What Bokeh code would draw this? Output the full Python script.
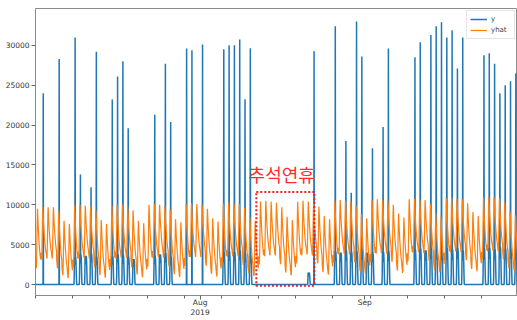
import numpy as np
import pandas as pd
from bokeh.plotting import figure
from bokeh.models import ColumnDataSource, FixedTicker, Range1d, Legend, LegendItem
from bokeh.core.properties import value
from bokeh.embed import file_html
from bokeh.resources import INLINE

# ---------------- data ----------------
start_date = "2019-07-01"
n_days = 92

# forecast (yhat): daily peak and daily low, Jul 1 .. Sep 30
yhat_peak = [
    9500, 9800, 9700, 9700, 9200, 8000, 7600,
    9900, 10000, 9900, 9800, 9300, 8100, 7600,
    9900, 10000, 10000, 9800, 9300, 8000, 7700,
    10000, 10100, 10000, 9900, 9400, 8200, 7800,
    10100, 10200, 10100, 10000, 9500, 8300, 7900,
    10200, 10300, 10200, 10100, 9600, 8400, 8000,
    10400, 10500, 10400, 10300, 9700, 8500, 8100,
    10400, 10500, 10400, 10300, 9800, 8600, 8200,
    10500, 10600, 10500, 10400, 9900, 8800, 8300,
    10600, 10700, 10600, 10500, 10000, 8900, 8400,
    10700, 10800, 10700, 10600, 10100, 9000, 8500,
    10800, 10900, 10800, 10700, 10200, 9100, 8600,
    10900, 11000, 10900, 10800, 10300, 9200, 8700,
    11000,
]
yhat_low = [
    2100, 3200, 3300, 3300, 2100, 1200, 850,
    2200, 3300, 3400, 3300, 2200, 1250, 900,
    2300, 3300, 3400, 3400, 2200, 1300, 950,
    2300, 3400, 3500, 3400, 2300, 1350, 1000,
    2400, 3500, 3500, 3500, 2400, 1400, 1050,
    2500, 3500, 3600, 3600, 2500, 1450, 1100,
    2600, 3600, 3700, 3700, 2600, 1550, 1200,
    2700, 3700, 3800, 3700, 2700, 1600, 1300,
    2800, 3800, 3900, 3800, 2800, 1700, 1400,
    2900, 3900, 4000, 3900, 2900, 1800, 1500,
    3000, 4000, 4100, 4000, 3000, 1900, 1600,
    3100, 4100, 4200, 4100, 3100, 2000, 1700,
    3200, 4200, 4300, 4200, 3200, 2100, 1800,
    3300,
]
# shape of one day of yhat (0 = daily low, 1 = daily peak), hours 0..23
yhat_day_shape = [0.12, 0.08, 0.04, 0.00, 0.00, 0.15, 0.35, 0.60, 0.85, 1.00, 0.92, 0.82,
                  0.72, 0.64, 0.56, 0.50, 0.44, 0.38, 0.33, 0.28, 0.24, 0.20, 0.17, 0.14]

# actual (y): daytime plateau level and the day's tallest hour (0 = none)
y_level = [
    0, 0, 0, 0, 0, 0, 0,
    3500, 3800, 3600, 3900, 3500, 0, 0,
    3600, 3800, 3700, 3500, 3200, 0, 0,
    0, 3600, 3800, 3900, 3500, 0, 0,
    0, 0, 0, 0, 0, 0, 0,
    4000, 4200, 4100, 4300, 3900, 3800, 0,
    0, 0, 0, 0, 0, 0, 0,
    0, 0, 1500, 0, 0, 0, 0,
    4200, 4000, 4300, 4100, 4200, 4400, 4000,
    4000, 0, 4100, 4200, 0, 0, 0,
    0, 4400, 4500, 4300, 4600, 4500, 4400,
    4500, 4400, 4600, 4300, 0, 0, 0,
    4500, 4600, 4400, 4700, 4500, 4600, 4400,
    4500,
]
y_peak = [
    0, 24000, 0, 0, 28300, 0, 0,
    31000, 13800, 0, 12200, 29200, 0, 0,
    23200, 26100, 28000, 19600, 0, 0, 0,
    0, 21300, 0, 27700, 20400, 0, 0,
    29600, 29400, 0, 30100, 0, 0, 0,
    29500, 30000, 30000, 30750, 23250, 29650, 0,
    0, 0, 0, 0, 0, 0, 0,
    0, 0, 0, 29250, 0, 0, 0,
    32400, 0, 18000, 11500, 33000, 28600, 0,
    17100, 0, 19750, 29600, 0, 0, 0,
    0, 28500, 30400, 0, 31300, 32400, 32900,
    31000, 31900, 27100, 31000, 0, 0, 0,
    28750, 29000, 27700, 24000, 25000, 25500, 26500,
    0,
]
# shape of one active day of y (fraction of plateau), hours 0..23
y_day_shape = [0, 0, 0, 0, 0, 0, 0, 0.3, 1.0, 0.85, 1.0, 0.9,
               0.7, 1.0, 0.95, 0.8, 0.5, 0.2, 0, 0, 0, 0, 0, 0]
spike_hour = 11

# annotation
note_text = ["추석연휴"]
note_x = [pd.Timestamp("2019-08-10 03:00")]
note_y = [12250]
box_left = [pd.Timestamp("2019-08-11 14:00")]
box_right = [pd.Timestamp("2019-08-22 12:00")]
box_bottom = [-150]
box_top = [11600]

# axis ticks
x_major = [pd.Timestamp("2019-08-01"), pd.Timestamp("2019-09-01")]
x_major_labels = ["Aug\n2019", "Sep"]
y_ticks = [0, 5000, 10000, 15000, 20000, 25000, 30000]
x_view_end = "2019-09-29 18:30"

# ---------------- build hourly series ----------------
t = pd.date_range(start_date, periods=n_days * 24, freq="h")
lo = np.repeat(np.array(yhat_low, float), 24)
hi = np.repeat(np.array(yhat_peak, float), 24)
yhat = lo + (hi - lo) * np.tile(np.array(yhat_day_shape), n_days)

y = np.repeat(np.array(y_level, float), 24) * np.tile(np.array(y_day_shape), n_days)
for d, pk in enumerate(y_peak):
    if pk > 0:
        y[d * 24 + spike_hour] = pk

src = ColumnDataSource(dict(t=t, y=y, yhat=yhat))

def ms(ts):
    return pd.Timestamp(ts).value // 10**6

p = figure(width=517, height=320, x_axis_type="datetime",
           output_backend="svg", toolbar_location=None,
           min_border_left=35, min_border_right=0,
           min_border_top=8, min_border_bottom=22,
           x_range=Range1d(ms(start_date), ms(x_view_end)),
           y_range=Range1d(-1375, 34625))
p.background_fill_color = "white"
p.border_fill_color = "white"
p.outline_line_color = "#8c8c8c"
p.xgrid.visible = False
p.ygrid.visible = False

r_y = p.line("t", "y", source=src, line_color="#1f77b4", line_width=1.5)
r_yhat = p.line("t", "yhat", source=src, line_color="#ff7f0e", line_width=1.2)

p.quad(left=box_left, right=box_right, top=box_top, bottom=box_bottom,
       fill_color=None, line_color="#ff1a1a", line_width=2, line_dash="2 2")
p.text(x=note_x, y=note_y, text=note_text, text_font=value("Noto Sans CJK KR"),
       text_font_size="18px", text_color="#ff2a2a", text_baseline="bottom",
       text_align="left")

major_ms = [ms(v) for v in x_major]
minor_ms = [ms(v) for v in pd.date_range(start_date, "2019-09-30", freq="W-MON")]
p.xaxis.ticker = FixedTicker(ticks=major_ms, minor_ticks=minor_ms)
p.xaxis.major_label_overrides = {k: lab for k, lab in zip(major_ms, x_major_labels)}
p.yaxis.ticker = FixedTicker(ticks=y_ticks)
p.yaxis.major_label_overrides = {v: str(v) for v in y_ticks}

for ax in (p.xaxis[0], p.yaxis[0]):
    ax.axis_line_color = "#8c8c8c"
    ax.major_tick_line_color = "#666666"
    ax.minor_tick_line_color = "#666666"
    ax.major_tick_out = 4
    ax.major_tick_in = 0
    ax.major_label_text_font = "DejaVu Sans"
    ax.major_label_text_font_size = "7.5px"
    ax.major_label_text_color = "#333333"
p.yaxis.major_label_standoff = 2
p.xaxis.major_label_standoff = -2
p.xaxis.minor_tick_out = 3
p.xaxis.minor_tick_in = 0
p.yaxis.minor_tick_line_color = None

legend = Legend(items=[LegendItem(label="y", renderers=[r_y]),
                       LegendItem(label="yhat", renderers=[r_yhat])],
                location="top_right")
legend.label_text_font = "DejaVu Sans"
legend.label_text_font_size = "7px"
legend.label_height = 10
legend.glyph_height = 10
legend.glyph_width = 17
legend.spacing = 1
legend.padding = 3
legend.margin = 2
legend.label_standoff = 4
legend.border_line_color = "#cccccc"
legend.background_fill_alpha = 0.8
p.add_layout(legend)

open("out.html", "w").write(file_html(p, INLINE))
